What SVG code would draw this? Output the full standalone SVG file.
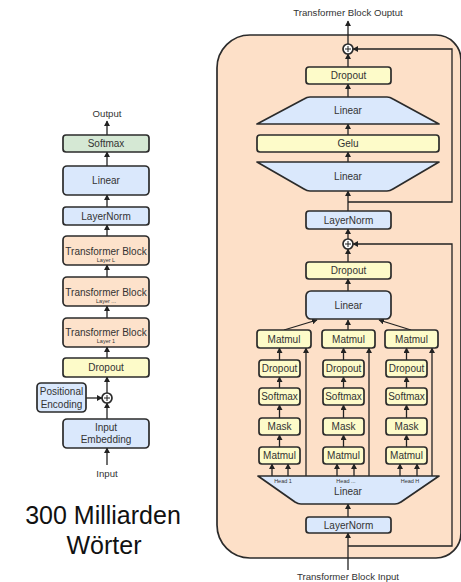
<svg xmlns="http://www.w3.org/2000/svg" width="461" height="582" viewBox="0 0 461 582">
<defs>
<marker id="ah" markerUnits="userSpaceOnUse" markerWidth="6" markerHeight="6" refX="5" refY="3" orient="auto">
<path d="M0,0 L5.5,3 L0,6 z" fill="#222"/>
</marker>
<style>
text{font-family:"Liberation Sans",Arial,sans-serif;fill:#333;text-anchor:middle}
.b{stroke:#2b2b2b;stroke-width:1.7;stroke-linejoin:round}
.blue{fill:#dae8fc}
.yel{fill:#fdfbc9}
.grn{fill:#d5e8d4}
.org{fill:#fde2cb}
.c{fill:none;stroke:#222;stroke-width:1.3}
.a{fill:none;stroke:#222;stroke-width:1.3;marker-end:url(#ah)}
.t10{font-size:10px}
.t9{font-size:9.6px}
.t5{font-size:5.5px}
</style>
</defs>
<rect width="461" height="582" fill="#fff"/>

<!-- panel -->
<g id="panel">
<path class="b" fill="#fde0c8" d="M250,35 H436 A25,25 0 0 1 461,60 V533 A25,25 0 0 1 436,558 H250 A33,33 0 0 1 217,525 V68 A33,33 0 0 1 250,35 Z"/>
</g>

<g id="connectors">
<!-- left -->
<line class="a" x1="107" y1="135" x2="107" y2="121"/>
<line class="a" x1="107" y1="166" x2="107" y2="152"/>
<line class="a" x1="107" y1="207" x2="107" y2="195"/>
<line class="a" x1="107" y1="236" x2="107" y2="225"/>
<line class="a" x1="107" y1="277" x2="107" y2="265"/>
<line class="a" x1="107" y1="318" x2="107" y2="306"/>
<line class="a" x1="107" y1="358" x2="107" y2="347"/>
<line class="a" x1="107" y1="393" x2="107" y2="377"/>
<line class="a" x1="107" y1="419" x2="107" y2="403"/>
<line class="a" x1="86" y1="398" x2="102" y2="398"/>
<line class="a" x1="107" y1="465" x2="107" y2="448"/>
<!-- right -->
<line class="a" x1="348" y1="44" x2="348" y2="21"/>
<line class="a" x1="348" y1="67" x2="348" y2="54"/>
<line class="a" x1="348" y1="97" x2="348" y2="84"/>
<line class="a" x1="348" y1="135" x2="348" y2="124"/>
<line class="a" x1="348" y1="162" x2="348" y2="152"/>
<line class="a" x1="348" y1="211" x2="348" y2="191"/>
<line class="a" x1="348" y1="239" x2="348" y2="229"/>
<path class="a" d="M348,202 H452 V49 H353"/>
<line class="a" x1="348" y1="262" x2="348" y2="249"/>
<line class="a" x1="348" y1="291" x2="348" y2="279"/>
<line class="a" x1="284" y1="330" x2="317" y2="320"/>
<line class="a" x1="348" y1="330" x2="348" y2="320"/>
<line class="a" x1="411" y1="330" x2="379" y2="320"/>
<line class="a" x1="279.5" y1="360" x2="279.5" y2="348"/>
<line class="a" x1="343.5" y1="360" x2="343.5" y2="348"/>
<line class="a" x1="406.5" y1="360" x2="406.5" y2="348"/>
<line class="a" x1="279.5" y1="388" x2="279.5" y2="377"/>
<line class="a" x1="343.5" y1="388" x2="343.5" y2="377"/>
<line class="a" x1="406.5" y1="388" x2="406.5" y2="377"/>
<line class="a" x1="279.5" y1="418" x2="279.5" y2="405"/>
<line class="a" x1="343.5" y1="418" x2="343.5" y2="405"/>
<line class="a" x1="406.5" y1="418" x2="406.5" y2="405"/>
<line class="a" x1="279.5" y1="447" x2="279.5" y2="435"/>
<line class="a" x1="343.5" y1="447" x2="343.5" y2="435"/>
<line class="a" x1="406.5" y1="447" x2="406.5" y2="435"/>
<line class="a" x1="306" y1="476" x2="306" y2="348"/>
<line class="a" x1="369" y1="476" x2="369" y2="348"/>
<line class="a" x1="432" y1="476" x2="432" y2="348"/>
<line class="a" x1="272" y1="476" x2="272" y2="464"/>
<line class="a" x1="288" y1="476" x2="288" y2="464"/>
<line class="a" x1="337" y1="476" x2="337" y2="464"/>
<line class="a" x1="354" y1="476" x2="354" y2="464"/>
<line class="a" x1="400" y1="476" x2="400" y2="464"/>
<line class="a" x1="417" y1="476" x2="417" y2="464"/>
<line class="a" x1="348" y1="517" x2="348" y2="504"/>
<line class="a" x1="348" y1="570" x2="348" y2="533"/>
<path class="a" d="M348,546 H452 V244 H353"/>
</g>

<!-- left diagram nodes -->
<g id="l-output"><text class="t9" x="107" y="117">Output</text></g>
<g id="l-softmax"><rect class="b grn" x="63" y="135" width="86" height="17" rx="3"/><text class="t10" x="106" y="147">Softmax</text></g>
<g id="l-linear"><rect class="b blue" x="63" y="166" width="86" height="29" rx="4"/><text class="t10" x="106" y="184">Linear</text></g>
<g id="l-layernorm"><rect class="b blue" x="63" y="207" width="86" height="18" rx="3"/><text class="t10" x="106" y="219.5">LayerNorm</text></g>
<g id="l-tbL"><rect class="b org" x="63" y="236" width="86" height="29" rx="4"/><text class="t10" x="106" y="254.5">Transformer Block</text><text class="t5" x="106" y="262">Layer L</text></g>
<g id="l-tbM"><rect class="b org" x="63" y="277" width="86" height="29" rx="4"/><text class="t10" x="106" y="295.5">Transformer Block</text><text class="t5" x="106" y="303">Layer ...</text></g>
<g id="l-tb1"><rect class="b org" x="63" y="318" width="86" height="29" rx="4"/><text class="t10" x="106" y="335.5">Transformer Block</text><text class="t5" x="106" y="343">Layer 1</text></g>
<g id="l-dropout"><rect class="b yel" x="63" y="358" width="86" height="19" rx="3"/><text class="t10" x="106" y="371">Dropout</text></g>
<g id="l-plus"><circle class="b" fill="#fff" cx="107" cy="398" r="5"/><path d="M104,398 H110 M107,395 V401" stroke="#222" stroke-width="1"/></g>
<g id="l-posenc"><rect class="b blue" x="37" y="383" width="49" height="29" rx="4"/><text class="t10" x="61.5" y="394.5">Positional</text><text class="t10" x="61.5" y="407.5">Encoding</text></g>
<g id="l-embed"><rect class="b blue" x="63" y="419" width="86" height="29" rx="4"/><text class="t10" x="106" y="430.5">Input</text><text class="t10" x="106" y="443">Embedding</text></g>
<g id="l-input"><text class="t9" x="107" y="477">Input</text></g>
<g id="caption"><text x="103" y="524" style="font-size:25px;fill:#111">300 Milliarden</text><text x="104" y="554" style="font-size:25px;fill:#111">Wörter</text></g>

<!-- right diagram nodes -->
<g id="r-output"><text class="t9" x="348" y="16">Transformer Block Ouptut</text></g>
<g id="r-plus1"><circle class="b" fill="#fff" cx="348" cy="49" r="5"/><path d="M345,49 H351 M348,46 V52" stroke="#222" stroke-width="1"/></g>
<g id="r-dropout1"><rect class="b yel" x="306" y="67" width="85" height="17" rx="3"/><text class="t10" x="348.5" y="79">Dropout</text></g>
<g id="r-linear-up"><path class="b blue" d="M310,97 H387 Q390,97 393,99 L439,124 H257 L304,99 Q307,97 310,97 Z"/><text class="t10" x="348" y="113.5">Linear</text></g>
<g id="r-gelu"><rect class="b yel" x="257" y="135" width="182" height="17" rx="3"/><text class="t10" x="348" y="147">Gelu</text></g>
<g id="r-linear-down"><path class="b blue" d="M257,162 H439 L393,189 Q390,191 387,191 H310 Q307,191 304,189 Z"/><text class="t10" x="348" y="180">Linear</text></g>
<g id="r-layernorm1"><rect class="b blue" x="306" y="211" width="85" height="18" rx="3"/><text class="t10" x="348.5" y="223.5">LayerNorm</text></g>
<g id="r-plus2"><circle class="b" fill="#fff" cx="348" cy="244" r="5"/><path d="M345,244 H351 M348,241 V247" stroke="#222" stroke-width="1"/></g>
<g id="r-dropout2"><rect class="b yel" x="306" y="262" width="85" height="17" rx="3"/><text class="t10" x="348.5" y="274">Dropout</text></g>
<g id="r-linear"><rect class="b blue" x="306" y="291" width="85" height="28" rx="5"/><text class="t10" x="348.5" y="308.5">Linear</text></g>

<g id="r-matmulA1"><rect class="b yel" x="257" y="330" width="54" height="18" rx="3"/><text class="t10" x="284" y="342.5">Matmul</text></g>
<g id="r-matmulA2"><rect class="b yel" x="322" y="330" width="53" height="18" rx="3"/><text class="t10" x="348.5" y="342.5">Matmul</text></g>
<g id="r-matmulA3"><rect class="b yel" x="385" y="330" width="53" height="18" rx="3"/><text class="t10" x="411.5" y="342.5">Matmul</text></g>

<g id="r-drop1"><rect class="b yel" x="259" y="360" width="41" height="17" rx="3"/><text class="t10" x="279.5" y="372">Dropout</text></g>
<g id="r-drop2"><rect class="b yel" x="323" y="360" width="41" height="17" rx="3"/><text class="t10" x="343.5" y="372">Dropout</text></g>
<g id="r-drop3"><rect class="b yel" x="386" y="360" width="41" height="17" rx="3"/><text class="t10" x="406.5" y="372">Dropout</text></g>

<g id="r-soft1"><rect class="b yel" x="259" y="388" width="41" height="17" rx="3"/><text class="t10" x="279.5" y="400">Softmax</text></g>
<g id="r-soft2"><rect class="b yel" x="323" y="388" width="41" height="17" rx="3"/><text class="t10" x="343.5" y="400">Softmax</text></g>
<g id="r-soft3"><rect class="b yel" x="386" y="388" width="41" height="17" rx="3"/><text class="t10" x="406.5" y="400">Softmax</text></g>

<g id="r-mask1"><rect class="b yel" x="259" y="418" width="41" height="17" rx="3"/><text class="t10" x="279.5" y="430">Mask</text></g>
<g id="r-mask2"><rect class="b yel" x="323" y="418" width="41" height="17" rx="3"/><text class="t10" x="343.5" y="430">Mask</text></g>
<g id="r-mask3"><rect class="b yel" x="386" y="418" width="41" height="17" rx="3"/><text class="t10" x="406.5" y="430">Mask</text></g>

<g id="r-matmulB1"><rect class="b yel" x="259" y="447" width="41" height="17" rx="3"/><text class="t10" x="279.5" y="459">Matmul</text></g>
<g id="r-matmulB2"><rect class="b yel" x="323" y="447" width="41" height="17" rx="3"/><text class="t10" x="343.5" y="459">Matmul</text></g>
<g id="r-matmulB3"><rect class="b yel" x="386" y="447" width="41" height="17" rx="3"/><text class="t10" x="406.5" y="459">Matmul</text></g>

<g id="r-linear-heads"><path class="b blue" d="M258,476 H439 L401,502 Q398,504 395,504 H301 Q298,504 295,502 Z"/>
<text class="t5" x="283" y="483">Head 1</text><text class="t5" x="346" y="483">Head ...</text><text class="t5" x="410" y="483">Head H</text>
<text class="t10" x="348" y="494.5">Linear</text></g>
<g id="r-layernorm2"><rect class="b blue" x="306" y="517" width="85" height="16" rx="3"/><text class="t10" x="348.5" y="528.5">LayerNorm</text></g>
<g id="r-input"><text class="t9" x="348" y="580">Transformer Block Input</text></g>
</svg>
